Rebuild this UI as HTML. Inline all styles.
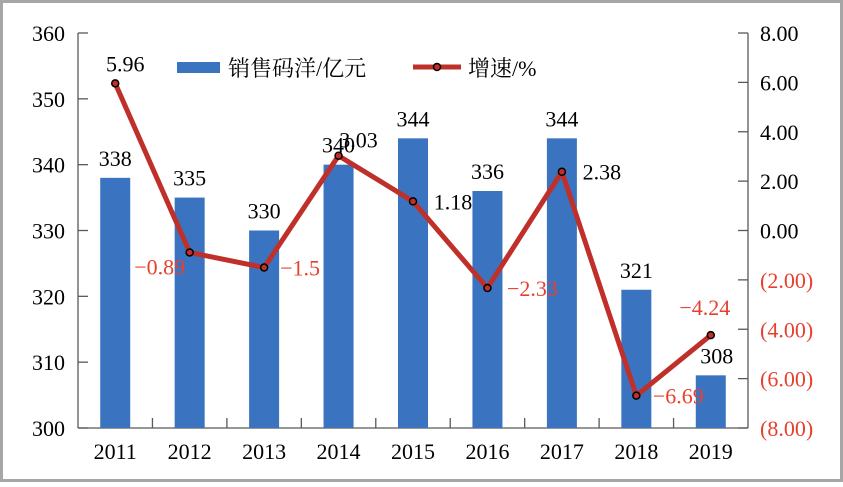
<!DOCTYPE html>
<html><head><meta charset="utf-8"><style>
body{margin:0;background:#fff}
svg text{font-family:"Liberation Serif","Noto Serif CJK SC",serif}
</style></head><body>
<svg width="843" height="482" viewBox="0 0 843 482" xmlns="http://www.w3.org/2000/svg">
<rect x="1.5" y="1.5" width="840" height="479" fill="#fff" stroke="#a6a6a6" stroke-width="3"/>
<g id="axes"></g><g id="bars"></g><g id="line"></g><g id="labels"></g>
<g>
<rect x="177" y="62" width="43" height="11" fill="#3a73bf"/>
<text x="228" y="76" font-size="22" fill="#000">销售码洋/亿元</text>
<line x1="413" y1="67" x2="461" y2="67" stroke="#c0302a" stroke-width="5"/>
<circle cx="437" cy="67" r="3.5" fill="#c0302a" stroke="#000" stroke-width="1.5"/>
<text x="468" y="76" font-size="22" fill="#000">增速/%</text>
</g>
</svg>
<script>
const categories=["2011","2012","2013","2014","2015","2016","2017","2018","2019"];
const sales=[338,335,330,340,344,336,344,321,308];
const growth=[5.96,-0.89,-1.5,3.03,1.18,-2.33,2.38,-6.69,-4.24];
const leftTicks=[300,310,320,330,340,350,360];
const rightTicks=[-8,-6,-4,-2,0,2,4,6,8];
const growthLabelDx=[10,-30,36,20,40,45,40,42,-6];
const growthLabelDy=[-12,22,8,-8,8,8,8,8,-20];
const NS="http://www.w3.org/2000/svg";
const X0=78,X1=748,Y0=428,Y1=33;
const bw=(X1-X0)/categories.length;
const xc=i=>X0+bw*(i+0.5);
const yL=v=>Y0-(v-300)/60*(Y0-Y1);
const yR=v=>Y0-(v+8)/16*(Y0-Y1);
function mk(tag,attrs,parent){const e=document.createElementNS(NS,tag);for(const k in attrs)e.setAttribute(k,attrs[k]);document.getElementById(parent).appendChild(e);return e;}
let e;
e=mk("line",{x1:X0,y1:Y1,x2:X0,y2:Y0,stroke:"#595959","stroke-width":1.3},"axes");


e=mk("line",{x1:X1,y1:Y1,x2:X1,y2:Y0,stroke:"#595959","stroke-width":1.3},"axes");


e=mk("line",{x1:X0,y1:Y0,x2:X1,y2:Y0,stroke:"#595959","stroke-width":1.3},"axes");


leftTicks.forEach(v=>{
 e=mk("line",{x1:X0,y1:yL(v),x2:X0+10,y2:yL(v),stroke:"#595959","stroke-width":1.3},"axes");
 
 
 e=mk("text",{x:65,y:yL(v)+8,"text-anchor":"end","font-size":22,fill:"#000"},"axes");e.textContent=v;
 
 
});
rightTicks.forEach(v=>{
 e=mk("line",{x1:X1-10,y1:yR(v),x2:X1,y2:yR(v),stroke:"#595959","stroke-width":1.3},"axes");
 
 
 const s=Math.abs(v).toFixed(2);
 e=mk("text",{x:760,y:yR(v)+8,"font-size":22,fill:v<0?"#e8402f":"#000"},"axes");e.textContent=v<0?"("+s+")":s;
 
 
});
for(let i=1;i<categories.length;i++){
 e=mk("line",{x1:X0+bw*i,y1:Y0,x2:X0+bw*i,y2:Y0-10,stroke:"#595959","stroke-width":1.3},"axes");
 
 
}
categories.forEach((c,i)=>{
 e=mk("text",{x:xc(i),y:459,"text-anchor":"middle","font-size":22,fill:"#000"},"axes");e.textContent=c;
 
 
});
sales.forEach((v,i)=>{
 e=mk("rect",{x:xc(i)-15,y:yL(v),width:30,height:Y0-yL(v),fill:"#3a73bf"},"bars");
 
 
 e=mk("text",{x:xc(i)+(i==8?6:0),y:yL(v)-12,"text-anchor":"middle","font-size":22,fill:"#000"},"labels");e.textContent=v;
 
 
});
e=mk("polyline",{points:growth.map((g,i)=>xc(i)+","+yR(g)).join(" "),fill:"none",stroke:"#c0302a","stroke-width":5,"stroke-linejoin":"round"},"line");


growth.forEach((g,i)=>{
 e=mk("circle",{cx:xc(i),cy:yR(g),r:3.5,fill:"#c0302a",stroke:"#000","stroke-width":1.5},"line");
 
 
 e=mk("text",{x:xc(i)+growthLabelDx[i],y:yR(g)+growthLabelDy[i],"text-anchor":"middle","font-size":22,fill:g<0?"#e8402f":"#000"},"labels");
 e.textContent=g<0?"\u2212"+Math.abs(g):String(g);
 
 
});
</script>
</body></html>
